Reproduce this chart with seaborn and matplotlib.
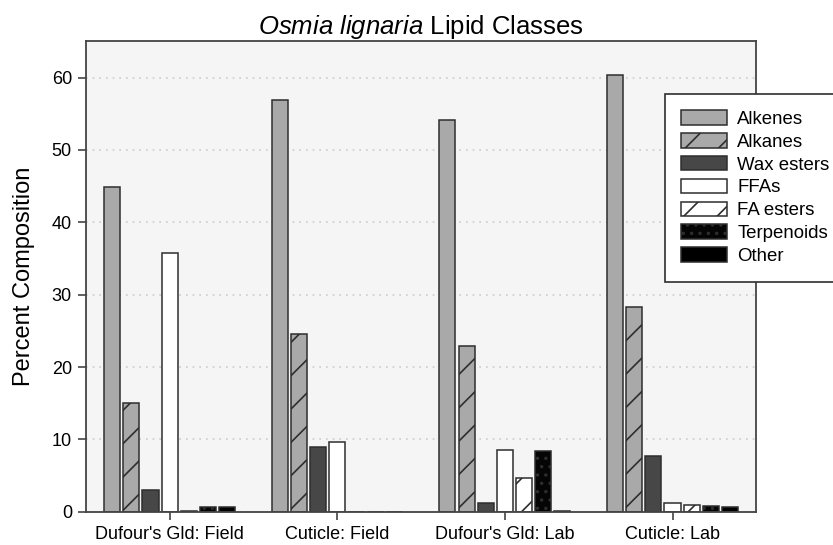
import matplotlib
matplotlib.use("Agg")
import matplotlib.pyplot as plt
from matplotlib.patches import Patch
import pandas as pd
import seaborn as sns

# ── Data (percent composition) ─────────────────────────────────────────────
samples = ["Dufour's Gld: Field", "Cuticle: Field", "Dufour's Gld: Lab", "Cuticle: Lab"]
classes = ["Alkenes", "Alkanes", "Wax esters", "FFAs", "FA esters", "Terpenoids", "Other"]

alkenes    = [44.9, 56.9, 54.1, 60.4]
alkanes    = [15.0, 24.5, 22.9, 28.3]
wax_esters = [3.0, 8.9, 1.2, 7.7]
ffas       = [35.8, 9.6, 8.6, 1.2]
fa_esters  = [0.15, 0.0, 4.6, 1.0]
terpenoids = [0.6, 0.0, 8.4, 0.8]
other      = [0.7, 0.0, 0.1, 0.6]

series = [alkenes, alkanes, wax_esters, ffas, fa_esters, terpenoids, other]

# Styling per class: face colour, hatch
faces   = ["#a9a9a9", "#a9a9a9", "#474747", "#ffffff", "#ffffff", "#050505", "#000000"]
hatches = ["", "/", "", "", "/", "..", ""]
EDGE = "#2e2e2e"
DOTS = "#c8c8c8"

rows = []
for cls, vals in zip(classes, series):
    for s, v in zip(samples, vals):
        rows.append({"sample": s, "lipid": cls, "pct": v})
df = pd.DataFrame(rows)

# ── Figure ────────────────────────────────────────────────────────────────
sns.set_style("white")
plt.rcParams["font.family"] = ["Liberation Sans", "DejaVu Sans"]
plt.rcParams["mathtext.fontset"] = "custom"
plt.rcParams["mathtext.it"] = "Liberation Sans:italic"
plt.rcParams["mathtext.rm"] = "Liberation Sans"
plt.rcParams["hatch.linewidth"] = 1.2
plt.rcParams["text.color"] = "black"
plt.rcParams["axes.labelcolor"] = "black"
plt.rcParams["xtick.labelcolor"] = "black"
plt.rcParams["ytick.labelcolor"] = "black"

fig = plt.figure(figsize=(8.33, 5.45), dpi=100)
ax = fig.add_axes([0.103, 0.061, 0.805, 0.863])
ax.set_facecolor("#f5f5f5")

sns.barplot(
    data=df, x="sample", y="pct", hue="lipid",
    order=samples, hue_order=classes,
    palette=faces, width=0.8, gap=0.16,
    edgecolor=EDGE, linewidth=1.1, saturation=1,
    ax=ax, legend=False,
)

# apply face colours / hatches per hue group (containers are in hue order)
for cont, fc, h in zip(ax.containers, faces, hatches):
    for bar in cont:
        bar.set_facecolor(fc)
        bar.set_hatch(h)
        bar.set_edgecolor(EDGE)
        if h == ".." and hasattr(bar, "set_hatchcolor"):
            bar.set_hatchcolor(DOTS)

ax.set_ylim(0, 65)
ax.set_xlim(-0.5, 3.5)
ax.set_yticks([0, 10, 20, 30, 40, 50, 60])
ax.yaxis.grid(True, linestyle=(0, (1, 3)), color="#cccccc", linewidth=1.2)
ax.set_axisbelow(True)

for sp in ax.spines.values():
    sp.set_color("#444444")
    sp.set_linewidth(1.3)

ax.tick_params(axis="both", length=6, width=1.2, color="#444444",
               labelsize=13, labelcolor="black", direction="out",
               bottom=True, left=True, pad=4)
ax.set_xlabel("")
ax.set_ylabel("Percent Composition", fontsize=17, labelpad=12, color="black")
ax.set_title(r"$\it{Osmia\ lignaria}$ Lipid Classes", fontsize=18.5, pad=5,
             color="black")

# legend with patch handles mirroring the bar styles
handles = []
for cls, fc, h in zip(classes, faces, hatches):
    p = Patch(facecolor=fc, edgecolor=EDGE, hatch=h, label=cls, linewidth=1.1)
    if h == ".." and hasattr(p, "set_hatchcolor"):
        p.set_hatchcolor(DOTS)
    handles.append(p)
leg = fig.legend(
    handles=handles, loc="upper left", bbox_to_anchor=(0.798, 0.828),
    frameon=True, fancybox=False, fontsize=13.4, handlelength=2.45,
    handleheight=0.8, handletextpad=0.55, labelspacing=0.28,
    borderpad=0.9, borderaxespad=0, labelcolor="black",
)
leg.get_frame().set_edgecolor(EDGE)
leg.get_frame().set_linewidth(1.2)
leg.get_frame().set_facecolor("white")
leg.get_frame().set_alpha(1)

fig.savefig("out.png", dpi=100)
